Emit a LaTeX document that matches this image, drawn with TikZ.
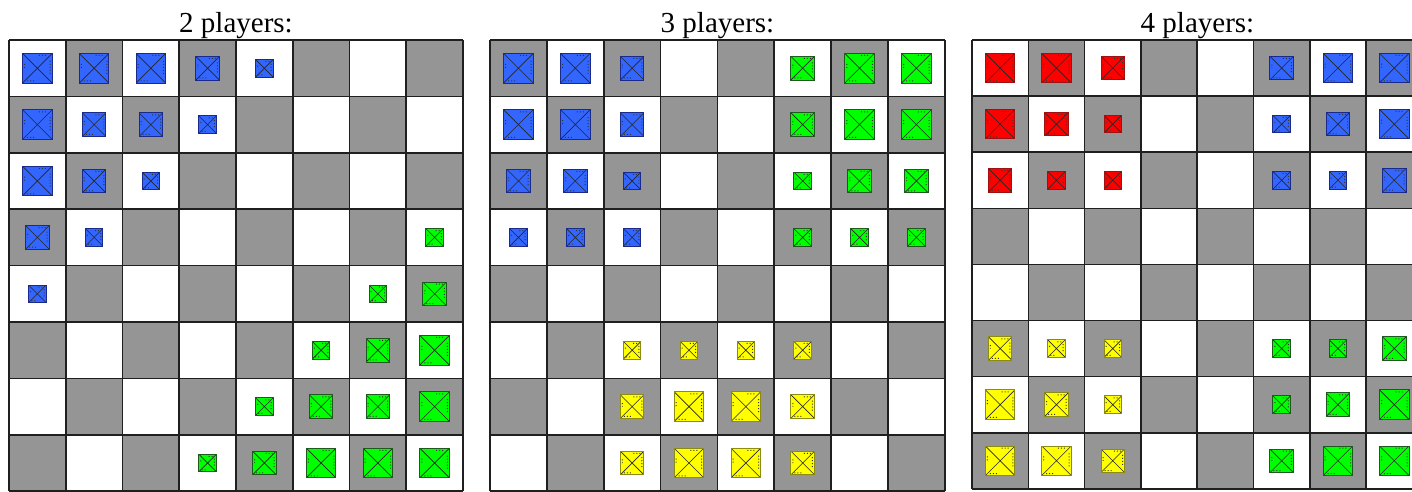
\documentclass[tikz,border=0pt]{standalone}
\usepackage{fontspec}
\setmainfont{Liberation Serif}
\usetikzlibrary{calc}
\definecolor{cellgray}{HTML}{959595}
\definecolor{pblue}{HTML}{3366FF}
\definecolor{pblueD}{HTML}{1A2A8C}
\definecolor{pgreen}{HTML}{00FF00}
\definecolor{pgreenD}{HTML}{1E5A1E}
\definecolor{pred}{HTML}{FF0000}
\definecolor{predD}{HTML}{A01010}
\definecolor{pyellow}{HTML}{FFFF00}
\definecolor{pyellowD}{HTML}{8C8C10}
\tikzset{
  gridline/.style={line width=1.6pt, draw=black!88},
  title/.style={font=\fontsize{29}{34}\selectfont, anchor=base, inner sep=0pt},
  piece/.style={rectangle, inner sep=0pt, outer sep=0pt, line width=0.9pt, minimum size=#1,
    path picture={
      \draw[line width=0.6pt, black!85]
        (path picture bounding box.north west) -- (path picture bounding box.south east)
        (path picture bounding box.north east) -- (path picture bounding box.south west);
      \draw[line width=1pt, black!80, dash pattern=on 1pt off 2pt]
        ($(path picture bounding box.north west)!0.55!(path picture bounding box.north east)+(0,2)$) --
        ($(path picture bounding box.north west)!0.85!(path picture bounding box.north east)+(0,2)$)
        ($(path picture bounding box.north east)!0.25!(path picture bounding box.south east)+(-2,0)$) --
        ($(path picture bounding box.north east)!0.7!(path picture bounding box.south east)+(-2,0)$)
        ($(path picture bounding box.south west)!0.15!(path picture bounding box.south east)+(0,-2)$) --
        ($(path picture bounding box.south west)!0.45!(path picture bounding box.south east)+(0,-2)$)
        ($(path picture bounding box.north west)!0.35!(path picture bounding box.south west)+(2,0)$) --
        ($(path picture bounding box.north west)!0.5!(path picture bounding box.south west)+(2,0)$);
    }},
  bluePc/.style={fill=pblue, draw=pblueD},
  greenPc/.style={fill=pgreen, draw=pgreenD},
  redPc/.style={fill=pred, draw=predD},
  yellowPc/.style={fill=pyellow, draw=pyellowD},
}
% board cells: #1 x0, #2 y0, #3 cell width, #4 cell height, #5 parity (0: gray where r+c odd, 1: gray where r+c even)
\newcommand\boardcells[5]{%
  \foreach \rw in {0,...,7}{
    \foreach \cl in {0,...,7}{
      \pgfmathtruncatemacro\pty{mod(\rw+\cl+#5,2)}
      \ifnum\pty=1
        \fill[cellgray] ({#1+\cl*#3},{#2+\rw*#4}) rectangle ({#1+(\cl+1)*#3},{#2+(\rw+1)*#4});
      \fi
    }
  }
  \foreach \k in {0,...,8}{
    \draw[gridline] ({#1+\k*#3},#2) -- ({#1+\k*#3},{#2+8*#4});
    \draw[gridline] (#1,{#2+\k*#4}) -- ({#1+8*#3},{#2+\k*#4});
  }
}
\begin{document}
\begin{tikzpicture}[x=1pt, y=-1pt]
\useasboundingbox (0,0) rectangle (1412,491);
\clip (0,0) rectangle (1412,491);
\fill[white] (0,0) rectangle (1412,491);

% titles
\node[title] (t1) at (236,32) {2 players:};
\node[title] (t2) at (717.5,32) {3 players:};
\node[title] (t3) at (1197.5,32) {4 players:};

% ---------- board 1 ----------
\boardcells{9}{40}{56.75}{56.4}{0}
\def\bx{9}\def\by{40}\def\cw{56.75}\def\ch{56.4}
\foreach \r/\c/\s in {0/0/29.5,0/1/29.5,0/2/29.5,0/3/23.5,0/4/17.5,
                      1/0/29.5,1/1/23.5,1/2/23.5,1/3/17.5,
                      2/0/29.5,2/1/23.5,2/2/17.5,
                      3/0/23.5,3/1/17.5,
                      4/0/17.5}{
  \pgfmathtruncatemacro\rr{7-\r}\pgfmathtruncatemacro\cc{7-\c}
  \node[piece=\s pt, bluePc] (a-\r-\c) at ({\bx+(\c+0.5)*\cw},{\by+(\r+0.5)*\ch}) {};
  \node[piece=\s pt, greenPc] (a-\rr-\cc) at ({\bx+(\cc+0.5)*\cw},{\by+(\rr+0.5)*\ch}) {};
}

% ---------- board 2 ----------
\boardcells{490}{40}{56.85}{56.4}{1}
\def\bx{490}\def\by{40}\def\cw{56.85}\def\ch{56.4}
\foreach \r/\c/\s in {0/0/29.5,0/1/29.5,0/2/23.5,
                      1/0/29.5,1/1/29.5,1/2/23.5,
                      2/0/23.5,2/1/23.5,2/2/17.5,
                      3/0/17.5,3/1/17.5,3/2/17.5}{
  \pgfmathtruncatemacro\cc{7-\c}
  \node[piece=\s pt, bluePc] (b-\r-\c) at ({\bx+(\c+0.5)*\cw},{\by+(\r+0.5)*\ch}) {};
  \node[piece=\s pt, greenPc] (b-\r-\cc) at ({\bx+(\cc+0.5)*\cw},{\by+(\r+0.5)*\ch}) {};
}
\foreach \r/\c/\s in {5/2/17.5,5/3/17.5,5/4/17.5,5/5/17.5,
                      6/2/23.5,6/3/29.5,6/4/29.5,6/5/23.5,
                      7/2/23.5,7/3/29.5,7/4/29.5,7/5/23.5}{
  \node[piece=\s pt, yellowPc] (b-\r-\c) at ({\bx+(\c+0.5)*\cw},{\by+(\r+0.5)*\ch}) {};
}

% ---------- board 3 ----------
\boardcells{972}{40}{56.3}{56.1}{0}
\def\bx{972}\def\by{40}\def\cw{56.3}\def\ch{56.1}
\foreach \r/\c/\s in {0/0/29.5,0/1/29.5,0/2/23.5,
                      1/0/29.5,1/1/23.5,1/2/17.5,
                      2/0/23.5,2/1/17.5,2/2/17.5}{
  \pgfmathtruncatemacro\rr{7-\r}\pgfmathtruncatemacro\cc{7-\c}
  \node[piece=\s pt, redPc] (c-\r-\c) at ({\bx+(\c+0.5)*\cw},{\by+(\r+0.5)*\ch}) {};
  \node[piece=\s pt, bluePc] (c-\r-\cc) at ({\bx+(\cc+0.5)*\cw},{\by+(\r+0.5)*\ch}) {};
  \node[piece=\s pt, yellowPc] (c-\rr-\c) at ({\bx+(\c+0.5)*\cw},{\by+(\rr+0.5)*\ch}) {};
  \node[piece=\s pt, greenPc] (c-\rr-\cc) at ({\bx+(\cc+0.5)*\cw},{\by+(\rr+0.5)*\ch}) {};
}
\end{tikzpicture}
\end{document}
